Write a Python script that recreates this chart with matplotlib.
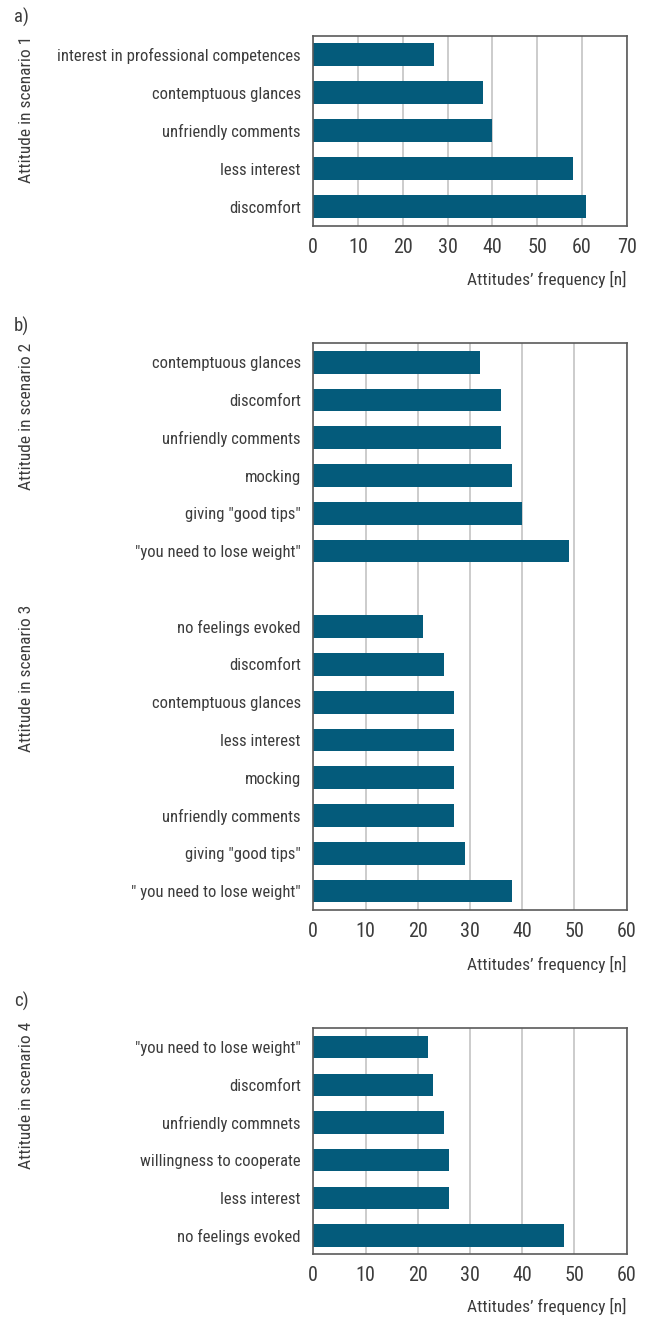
import matplotlib
matplotlib.use("Agg")
import matplotlib.pyplot as plt
from matplotlib import font_manager as fm

# ---------------- data ----------------
cats_a = ["interest in professional competences", "contemptuous glances",
          "unfriendly comments", "less interest", "discomfort"]
vals_a = [27, 38, 40, 58, 61]

cats_b2 = ["contemptuous glances", "discomfort", "unfriendly comments",
           "mocking", 'giving "good tips"', '"you need to lose weight"']
vals_b2 = [32, 36, 36, 38, 40, 49]

cats_b3 = ["no feelings evoked", "discomfort", "contemptuous glances",
           "less interest", "mocking", "unfriendly comments",
           'giving "good tips"', '" you need to lose weight"']
vals_b3 = [21, 25, 27, 27, 27, 27, 29, 38]

cats_c = ['"you need to lose weight"', "discomfort", "unfriendly commnets",
          "willingness to cooperate", "less interest", "no feelings evoked"]
vals_c = [22, 23, 25, 26, 26, 48]

xticks_a = [0, 10, 20, 30, 40, 50, 60, 70]
xticks_bc = [0, 10, 20, 30, 40, 50, 60]
xlabel = "Attitudes\u2019 frequency [n]"

# ---------------- style ----------------
names = {f.name for f in fm.fontManager.ttflist}
fam = [n for n in ["Liberation Sans Narrow", "DejaVu Sans Condensed", "Roboto Condensed",
                   "Roboto", "DejaVu Sans"] if n in names]
plt.rcParams['font.family'] = fam
TXT = "#3c3c3c"
BAR = "#045b7b"
GRID = "#c4c4c4"
SPINE = "#5a5a5a"
FS = 12

W, H = 646, 1318
fig = plt.figure(figsize=(W / 100, H / 100), dpi=100)


def px_axes(top, bottom, left=313.3, right=626.7):
    return fig.add_axes([left / W, 1 - bottom / H, (right - left) / W, (bottom - top) / H])


def style(ax, xmax, ticks, top, bottom, label_y):
    ax.set_xlim(0, xmax)
    ax.set_xticks(ticks)
    ax.grid(axis='x', color=GRID, lw=1.2)
    ax.set_axisbelow(True)
    for s in ax.spines.values():
        s.set_color(SPINE)
        s.set_linewidth(1.2)
    ax.tick_params(axis='x', length=0, labelsize=FS + 2.5, colors=TXT, pad=8.5)
    ax.tick_params(axis='y', length=0, labelsize=FS, colors=TXT, pad=9)
    ax.set_xlabel(xlabel, fontsize=FS + 0.5, color=TXT)
    ax.xaxis.set_label_coords(1.0, -(label_y - bottom) / (bottom - top))
    ax.xaxis.label.set_ha('right')
    ax.xaxis.label.set_va('center')


# panel a
axa = px_axes(35.7, 225.7)
ya = list(range(len(cats_a)))
axa.barh(ya, vals_a, height=0.6, color=BAR)
axa.set_yticks(ya)
axa.set_yticklabels(cats_a)
axa.set_ylim(len(cats_a) - 0.5, -0.5)
style(axa, 70, xticks_a, 35.7, 225.7, 279)

# panel b
axb = px_axes(343.3, 910)
yb2 = list(range(len(cats_b2)))
yb3 = [len(cats_b2) + 1 + i for i in range(len(cats_b3))]
axb.barh(yb2, vals_b2, height=0.6, color=BAR)
axb.barh(yb3, vals_b3, height=0.6, color=BAR)
axb.set_yticks(yb2 + yb3)
axb.set_yticklabels(cats_b2 + cats_b3)
axb.set_ylim(yb3[-1] + 0.5, -0.5)
style(axb, 60, xticks_bc, 343.3, 910, 964)

# panel c
axc = px_axes(1028.3, 1254.3)
yc = list(range(len(cats_c)))
axc.barh(yc, vals_c, height=0.6, color=BAR)
axc.set_yticks(yc)
axc.set_yticklabels(cats_c)
axc.set_ylim(len(cats_c) - 0.5, -0.5)
style(axc, 60, xticks_bc, 1028.3, 1254.3, 1306)

# panel letters and rotated y labels
for lab, y in [("a)", 17), ("b)", 326), ("c)", 1001)]:
    fig.text(14 / W, 1 - y / H, lab, fontsize=FS + 1.5, color=TXT, ha='left', va='center')
for lab, y in [("Attitude in scenario 1", 109), ("Attitude in scenario 2", 416),
               ("Attitude in scenario 3", 678), ("Attitude in scenario 4", 1095)]:
    fig.text(27 / W, 1 - y / H, lab, fontsize=FS + 0.5, color=TXT, rotation=90,
             ha='center', va='center')

fig.savefig("out.png", dpi=100)
